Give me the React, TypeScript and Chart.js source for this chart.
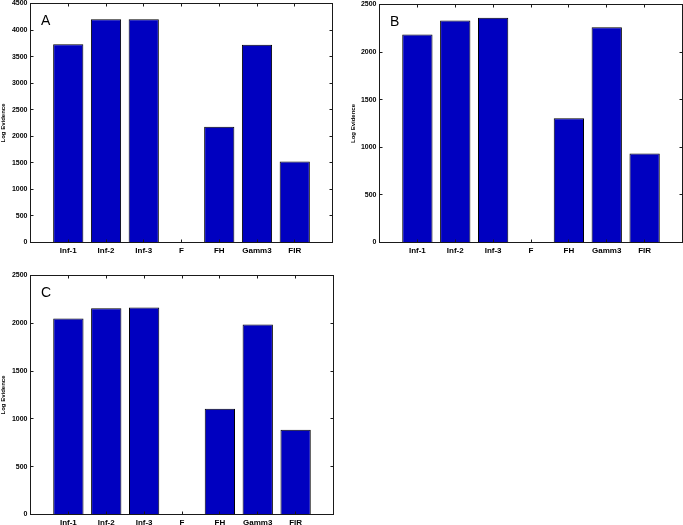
import React, { useEffect, useRef } from 'react';
import { Chart, registerables } from 'chart.js';

Chart.register(...registerables);
Chart.defaults.font.family = '"Liberation Sans", Arial, Helvetica, sans-serif';

const categories = ['Inf-1', 'Inf-2', 'Inf-3', 'F', 'FH', 'Gamm3', 'FIR'];
const evidenceA: (number | null)[] = [3735, 4205, 4205, null, 2180, 3722, 1523];
const evidenceB: (number | null)[] = [2185, 2332, 2360, null, 1306, 2262, 935];
const evidenceC: (number | null)[] = [2049, 2158, 2164, null, 1106, 1987, 887];
const panelLabels = ['A', 'B', 'C'];
const yMaxA = 4500;
const yMaxB = 2500;
const yMaxC = 2500;
const yStep = 500;
const yTitle = 'Log Evidence';

type Panel = {
  label: string;
  values: (number | null)[];
  yMax: number;
  box: { left: number; top: number; width: number; height: number };
  pad: { left: number; right: number; top: number; bottom: number };
  yw: number;
  xh: number;
};

const panels: Panel[] = [
  {
    label: panelLabels[0],
    values: evidenceA,
    yMax: yMaxA,
    box: { left: 0, top: 0, width: 340, height: 260 },
    pad: { left: 0, right: 7.5, top: 3.5, bottom: 3 },
    yw: 30.5,
    xh: 14.5,
  },
  {
    label: panelLabels[1],
    values: evidenceB,
    yMax: yMaxB,
    box: { left: 340, top: 0, width: 343, height: 260 },
    pad: { left: 9.5, right: 0.5, top: 4.5, bottom: 3 },
    yw: 30,
    xh: 14.5,
  },
  {
    label: panelLabels[2],
    values: evidenceC,
    yMax: yMaxC,
    box: { left: 0, top: 260, width: 340, height: 265 },
    pad: { left: 0, right: 6.5, top: 15.5, bottom: 0 },
    yw: 30.5,
    xh: 10.5,
  },
];

const crisp = (v: number) => Math.round(v - 0.5) + 0.5;

const framePlugin = {
  id: 'frame',
  afterDatasetsDraw(chart: any, _args: any, opts: any) {
    const { ctx, chartArea: a, scales } = chart;
    ctx.save();
    ctx.strokeStyle = '#1a1a1a';
    ctx.lineWidth = 1;
    ctx.strokeRect(a.left, a.top, a.right - a.left, a.bottom - a.top);
    const t = 3;
    ctx.beginPath();
    scales.y.ticks.forEach((tk: any) => {
      const y = crisp(scales.y.getPixelForValue(tk.value));
      ctx.moveTo(a.left, y);
      ctx.lineTo(a.left + t, y);
      ctx.moveTo(a.right, y);
      ctx.lineTo(a.right - t, y);
    });
    scales.x.ticks.forEach((tk: any) => {
      const x = crisp(scales.x.getPixelForValue(tk.value));
      ctx.moveTo(x, a.bottom);
      ctx.lineTo(x, a.bottom - t);
      ctx.moveTo(x, a.top);
      ctx.lineTo(x, a.top + t);
    });
    ctx.stroke();
    ctx.fillStyle = '#000';
    ctx.font = '14px "Liberation Sans", Arial, sans-serif';
    ctx.textBaseline = 'alphabetic';
    ctx.textAlign = 'left';
    ctx.fillText(opts.label, a.left + 10.5, a.top + 21.5);
    ctx.restore();
  },
};

function PanelChart({ p }: { p: Panel }) {
  const ref = useRef<HTMLCanvasElement | null>(null);
  useEffect(() => {
    if (!ref.current) return;
    const chart = new Chart(ref.current, {
      type: 'bar',
      data: {
        datasets: [
          {
            data: p.values.map((v, i) => ({ x: i + 1, y: v })) as any,
            backgroundColor: 'rgb(0,0,192)',
            borderColor: '#000',
            borderWidth: 1,
            barPercentage: 0.8,
            categoryPercentage: 1,
          },
        ],
      },
      options: {
        animation: false,
        responsive: false,
        devicePixelRatio: 1,
        layout: { padding: p.pad },
        plugins: {
          legend: { display: false },
          tooltip: { enabled: false },
          frame: { label: p.label },
        } as any,
        scales: {
          x: {
            type: 'linear',
            offset: false,
            min: 0,
            max: categories.length + 1,
            grid: { display: false, drawTicks: false, offset: false },
            border: { display: false },
            afterBuildTicks: (s: any) => {
              s.ticks = categories.map((_, i) => ({ value: i + 1 }));
            },
            afterFit: (s: any) => {
              s.height = p.xh;
              s.paddingLeft = 0;
              s.paddingRight = 0;
            },
            ticks: {
              autoSkip: false,
              maxRotation: 0,
              padding: 3.5,
              color: '#000',
              font: { size: 8, weight: 'bold' },
              callback: (v: any) => categories[Math.round(Number(v)) - 1] ?? '',
            },
          },
          y: {
            type: 'linear',
            min: 0,
            max: p.yMax,
            grid: { display: false, drawTicks: false },
            border: { display: false },
            afterFit: (s: any) => {
              s.width = p.yw;
              s.paddingTop = 0;
              s.paddingBottom = 0;
            },
            title: {
              display: true,
              text: yTitle,
              color: '#000',
              padding: 0,
              font: { size: 6, weight: 'bold' },
            },
            ticks: {
              stepSize: yStep,
              padding: 3,
              color: '#000',
              font: { size: 7, weight: 'bold' },
              callback: (v: any) => String(v),
            },
          },
        },
      } as any,
      plugins: [framePlugin],
    });
    return () => chart.destroy();
  }, [p]);
  return (
    <div
      style={{
        position: 'absolute',
        left: p.box.left,
        top: p.box.top,
        width: p.box.width,
        height: p.box.height,
      }}
    >
      <canvas
        ref={ref}
        width={p.box.width}
        height={p.box.height}
        style={{ width: p.box.width, height: p.box.height, display: 'block' }}
      />
    </div>
  );
}

export default function App() {
  return (
    <div
      style={{
        position: 'absolute',
        left: 0,
        top: 0,
        width: 683,
        height: 525,
        background: '#fff',
        overflow: 'hidden',
      }}
    >
      {panels.map((p) => (
        <PanelChart key={p.label} p={p} />
      ))}
    </div>
  );
}
